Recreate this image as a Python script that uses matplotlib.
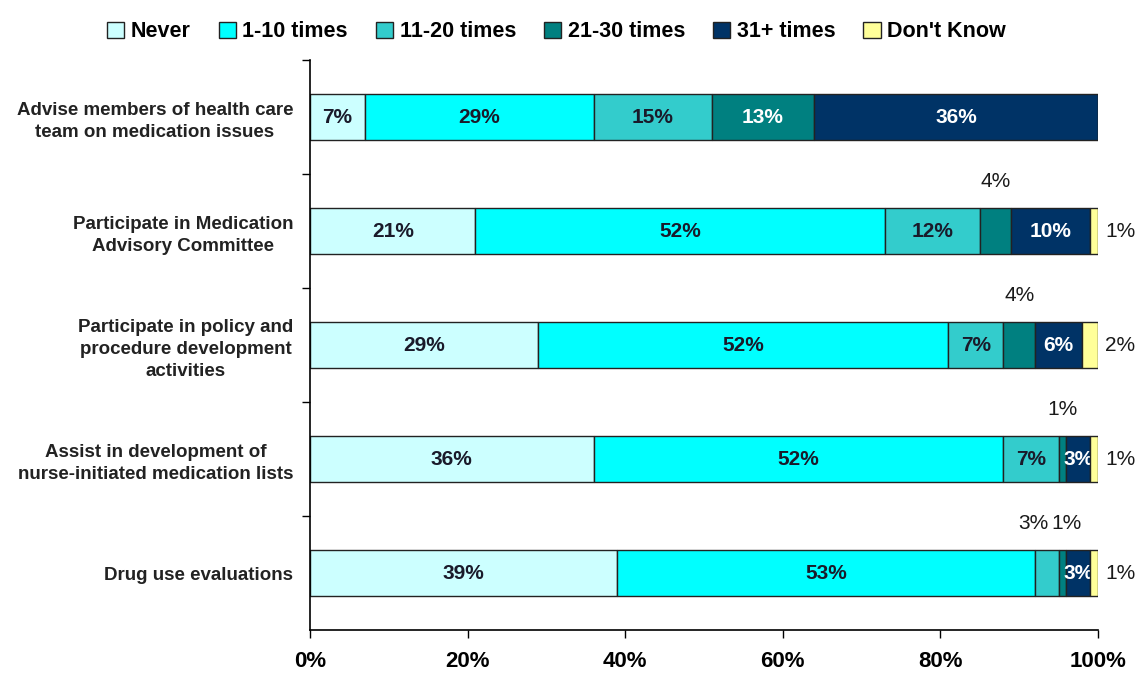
import numpy as np
import matplotlib.pyplot as plt
import matplotlib as mpl

mpl.rcParams.update({
    "font.family": ["Liberation Sans", "DejaVu Sans"],
    "font.weight": "bold",
})

categories = [
    "Advise members of health care\nteam on medication issues",
    "Participate in Medication\nAdvisory Committee",
    "Participate in policy and\nprocedure development\nactivities",
    "Assist in development of\nnurse-initiated medication lists",
    "Drug use evaluations",
]
series_names = ["Never", "1-10 times", "11-20 times", "21-30 times", "31+ times", "Don't Know"]
never = [7, 21, 29, 36, 39]
times_1_10 = [29, 52, 52, 52, 53]
times_11_20 = [15, 12, 7, 7, 3]
times_21_30 = [13, 4, 4, 1, 1]
times_31 = [36, 10, 6, 3, 3]
dont_know = [0, 1, 2, 1, 1]
x_ticks = [0, 20, 40, 60, 80, 100]

colors = ["#CCFFFF", "#00FFFF", "#33CCCC", "#008080", "#003366", "#FFFF99"]
text_colors = ["#1a1a2a", "#1a1a2a", "#1a1a2a", "white", "white", "#1a1a2a"]

# label placement: "in" = inside bar, "up" = above bar, "right" = right of bar, None = no label
placement = [
    ["in", "in", "in", "in", "in", None],
    ["in", "in", "in", "up", "in", "right"],
    ["in", "in", "in", "up", "in", "right"],
    ["in", "in", "in", "up", "in", "right"],
    ["in", "in", "up", "up", "in", "right"],
]
up_offsets = {(4, 2): -13, (4, 3): 4}

data = np.array([never, times_1_10, times_11_20, times_21_30, times_31, dont_know], dtype=float)
n = len(categories)
y = np.arange(n)

fig = plt.figure(figsize=(11.45, 6.76), dpi=100)
ax = fig.add_axes([0.2707, 0.068, 0.6882, 0.8432])

left = np.zeros(n)
handles = []
for k, name in enumerate(series_names):
    vals = data[k]
    z = 4 if k == len(series_names) - 1 else 2
    b = ax.barh(y, vals, left=left, height=0.4, color=colors[k], edgecolor="#222222",
                linewidth=1.0, label=name, zorder=z)
    handles.append(b)
    for i in range(n):
        p = placement[i][k]
        if p is None:
            continue
        cx = left[i] + vals[i] / 2
        txt = f"{int(vals[i])}%"
        if p == "in":
            ax.text(cx, y[i], txt, ha="center", va="center", fontsize=15,
                    fontweight="bold", color=text_colors[k], zorder=3)
        elif p == "up":
            ax.annotate(txt, (cx, y[i]), xytext=(up_offsets.get((i, k), 0), 50),
                        textcoords="offset pixels", ha="center", va="center",
                        fontsize=15, fontweight="normal", color="#1a1a1a")
        elif p == "right":
            ax.annotate(txt, (left[i] + vals[i], y[i]), xytext=(7, 0),
                        textcoords="offset pixels", ha="left", va="center",
                        fontsize=15, fontweight="normal", color="#1a1a1a")
    left += vals

ax.set_xlim(0, 100)
ax.set_ylim(n - 0.5, -0.5)
ax.set_xticks(x_ticks)
ax.set_xticklabels([f"{t}%" for t in x_ticks], fontsize=16, fontweight="bold")
ax.set_yticks(y)
ax.set_yticklabels(categories, fontsize=13.5, fontweight="bold", multialignment="center",
                   color="#222222", linespacing=1.4)
ax.tick_params(axis="y", length=0, pad=12)
ax.set_yticks(np.arange(n) - 0.5, minor=True)
ax.tick_params(axis="y", which="minor", length=6, width=1)
ax.tick_params(axis="x", length=6, width=1, pad=9)

for s in ["top", "right"]:
    ax.spines[s].set_visible(False)
ax.spines["left"].set_linewidth(1.2)
ax.spines["bottom"].set_linewidth(1.2)

leg = fig.legend(handles=handles, labels=series_names, loc="upper center",
                 bbox_to_anchor=(0.486, 0.997), ncol=6, frameon=False,
                 fontsize=15.5, handlelength=0.8, handleheight=0.8,
                 handletextpad=0.3, columnspacing=1.3)
for t in leg.get_texts():
    t.set_fontweight("bold")

fig.savefig("out.png", dpi=100)
